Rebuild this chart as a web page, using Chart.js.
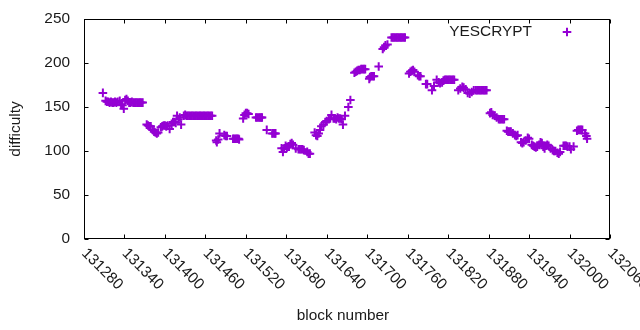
<!DOCTYPE html>
<html>
<head>
<meta charset="utf-8">
<script src="https://cdn.jsdelivr.net/npm/chart.js@4/dist/chart.umd.min.js"></script>
<style>
  html, body { margin: 0; padding: 0; background: #fff; }
  #chart { display: block; }
</style>
</head>
<body>
<canvas id="chart" width="640" height="330"></canvas>
<script>
// YESCRYPT difficulty per block
const SERIES_NAME = 'YESCRYPT';
const X_TITLE = 'block number';
const Y_TITLE = 'difficulty';

const blocks = [
  131308, 131312, 131314, 131316, 131318, 131320, 131322, 131324, 131326, 131328,
  131330, 131333, 131335, 131337, 131339, 131341, 131343, 131345, 131347, 131349,
  131351, 131353, 131355, 131357, 131359, 131361, 131363, 131365, 131367,
  131373, 131375, 131377, 131379, 131382, 131384, 131386, 131388, 131390,
  131394, 131396, 131398, 131400, 131402, 131404, 131407, 131410, 131412, 131414,
  131416, 131418, 131420, 131422, 131424,
  131428, 131430, 131432, 131434, 131436, 131438, 131440, 131442, 131444, 131446,
  131448, 131450, 131452, 131454, 131456, 131458, 131460, 131462, 131464, 131466,
  131468, 131470,
  131476, 131477, 131479, 131481, 131488, 131490, 131492,
  131501, 131503, 131505, 131507, 131509, 131510,
  131516, 131518, 131520, 131522, 131524,
  131535, 131537, 131539, 131541, 131543, 131544,
  131551, 131559, 131561, 131563, 131564,
  131573, 131575, 131577, 131579, 131581, 131584, 131586, 131588, 131590, 131594,
  131598, 131600, 131602, 131604, 131606, 131611, 131613, 131615,
  131622, 131624, 131626, 131628, 131630, 131632, 131635, 131638, 131640, 131643,
  131645, 131647, 131650, 131652, 131654, 131656, 131658, 131660, 131662, 131664,
  131667, 131672, 131675,
  131681, 131683, 131685, 131687, 131689, 131691, 131693, 131695, 131697,
  131703, 131704, 131706, 131708, 131710, 131717,
  131723, 131725, 131727, 131730,
  131736, 131738, 131740, 131742, 131744, 131746, 131748, 131750, 131752, 131754, 131756,
  131762, 131764, 131766, 131768, 131770, 131775, 131777, 131779,
  131787, 131789, 131796, 131799, 131803, 131806, 131808, 131811,
  131813, 131815, 131817, 131819, 131821, 131823, 131825, 131827, 131829,
  131835, 131838, 131841, 131843, 131846, 131849, 131852, 131855, 131858,
  131861, 131863, 131865, 131867, 131869, 131871, 131873, 131875, 131877,
  131882, 131884, 131886, 131889, 131892, 131895, 131897, 131899, 131901, 131903,
  131907, 131909, 131911, 131913, 131916, 131919, 131921, 131923,
  131928, 131930, 131932, 131935, 131938, 131940,
  131944, 131946, 131948, 131950, 131952, 131955, 131957, 131959, 131961, 131963,
  131965, 131967, 131969, 131972, 131975, 131977, 131979, 131982, 131984, 131986,
  131991, 131993, 131995, 131997, 132000, 132002, 132006,
  132011, 132013, 132015, 132017, 132019, 132023, 132025, 132026
];

const difficulty = [
  166, 157, 156, 156, 155, 156, 155, 155, 156, 155,
  156, 157, 153, 152, 148, 158, 159, 157, 155, 155,
  156, 155, 155, 155, 155, 155, 155, 155, 155,
  130, 129, 128, 128, 124, 122, 121, 120, 121,
  127, 128, 129, 129, 128, 129, 125, 131, 133, 133,
  132, 140, 136, 138, 130,
  140, 141, 140, 140, 140, 140, 140, 140, 140, 140,
  140, 140, 140, 140, 140, 140, 140, 140, 140, 140,
  140, 140,
  112, 110, 113, 120, 118, 117, 117,
  114, 114, 114, 114, 114, 113,
  137, 141, 143, 143, 142,
  138, 138, 138, 138, 138, 138,
  124, 120, 120, 120, 120,
  103, 99, 103, 106, 104, 105, 108, 109, 107, 103,
  102, 102, 102, 102, 101, 99, 97, 97,
  121, 118, 117, 120, 124, 128, 130, 133, 134, 136,
  137, 141, 137, 137, 136, 138, 137, 137, 136, 130,
  140, 150, 158,
  189, 190, 191, 192, 192, 193, 193, 193, 193,
  182, 184, 185, 185, 185, 196,
  216, 218, 220, 221,
  229, 229, 229, 229, 229, 229, 229, 229, 229, 229, 229,
  188, 190, 191, 192, 190, 186, 185, 185,
  176, 176, 169, 174, 181, 178, 177, 178,
  180, 181, 181, 181, 181, 181, 181, 181, 181,
  169, 171, 173, 172, 170, 166, 165, 167, 169,
  169, 169, 169, 169, 169, 169, 169, 169, 169,
  143, 144, 141, 140, 138, 136, 136, 136, 136, 136,
  123, 122, 122, 122, 120, 118, 117, 118,
  110, 109, 110, 112, 115, 114,
  107, 106, 105, 104, 105, 107, 110, 109, 105, 103,
  106, 107, 106, 103, 101, 100, 100, 98, 97, 99,
  106, 106, 106, 105, 105, 102, 105,
  123, 124, 124, 124, 124, 120, 117, 114
];

const xTicks = [131280, 131340, 131400, 131460, 131520, 131580, 131640,
                131700, 131760, 131820, 131880, 131940, 132000, 132060];
const yTicks = [0, 50, 100, 150, 200, 250];

const POINT_COLOR = '#9400d3';
const FONT = '15.4px "Liberation Sans", Arial, sans-serif';

// gnuplot-like frame: border, inward ticks on all four sides, labels
const gnuplotFrame = {
  id: 'gnuplotFrame',
  beforeDatasetsDraw(chart) {
    const { ctx, chartArea: a, scales: { x, y } } = chart;
    const L = Math.round(a.left) + 0.5, R = Math.round(a.right) - 0.5;
    const T = Math.round(a.top) + 0.5, B = Math.round(a.bottom) - 0.5;
    const tick = 4;

    ctx.save();
    ctx.strokeStyle = '#000';
    ctx.lineWidth = 1;
    ctx.strokeRect(L, T, R - L, B - T);

    ctx.beginPath();
    xTicks.forEach(t => {
      const px = Math.round(x.getPixelForValue(t)) + 0.5;
      ctx.moveTo(px, B); ctx.lineTo(px, B - tick);
      ctx.moveTo(px, T); ctx.lineTo(px, T + tick);
    });
    yTicks.forEach(t => {
      const py = Math.round(y.getPixelForValue(t)) + 0.5;
      ctx.moveTo(L, py); ctx.lineTo(L + tick, py);
      ctx.moveTo(R, py); ctx.lineTo(R - tick, py);
    });
    ctx.stroke();

    ctx.fillStyle = '#1a1a1a';
    ctx.font = FONT;

    // y tick labels
    ctx.textAlign = 'right';
    ctx.textBaseline = 'middle';
    yTicks.forEach(t => ctx.fillText(String(t), a.left - 14, y.getPixelForValue(t)));

    // x tick labels, rotated 45° clockwise, starting at the tick
    ctx.textAlign = 'left';
    xTicks.forEach(t => {
      ctx.save();
      ctx.translate(x.getPixelForValue(t), a.bottom + 12);
      ctx.rotate(Math.PI / 4);
      ctx.fillText(String(t), 0, 0);
      ctx.restore();
    });

    // axis titles
    ctx.textAlign = 'center';
    ctx.fillText(X_TITLE, 343, 316);
    ctx.save();
    ctx.translate(16, (a.top + a.bottom) / 2);
    ctx.rotate(-Math.PI / 2);
    ctx.fillText(Y_TITLE, 0, 0);
    ctx.restore();

    // key
    ctx.textAlign = 'right';
    ctx.fillText(SERIES_NAME, 532, 32);
    ctx.strokeStyle = POINT_COLOR;
    ctx.lineWidth = 2;
    ctx.beginPath();
    ctx.moveTo(562.7, 32); ctx.lineTo(571.3, 32);
    ctx.moveTo(567, 27.7); ctx.lineTo(567, 36.3);
    ctx.stroke();
    ctx.restore();
  }
};

new Chart(document.getElementById('chart'), {
  type: 'scatter',
  data: {
    datasets: [{
      label: SERIES_NAME,
      data: blocks.map((b, i) => ({ x: b, y: difficulty[i] })),
      pointStyle: 'cross',
      pointRadius: 4.3,
      pointBorderWidth: 2,
      borderColor: POINT_COLOR,
      backgroundColor: POINT_COLOR,
      showLine: false
    }]
  },
  options: {
    responsive: false,
    animation: false,
    events: [],
    layout: { padding: { left: 84, right: 30, top: 19, bottom: 91 } },
    plugins: { legend: { display: false }, tooltip: { enabled: false } },
    scales: {
      x: { type: 'linear', min: 131280, max: 132060, display: false },
      y: { type: 'linear', min: 0, max: 250, display: false }
    }
  },
  plugins: [gnuplotFrame]
});
</script>
</body>
</html>
